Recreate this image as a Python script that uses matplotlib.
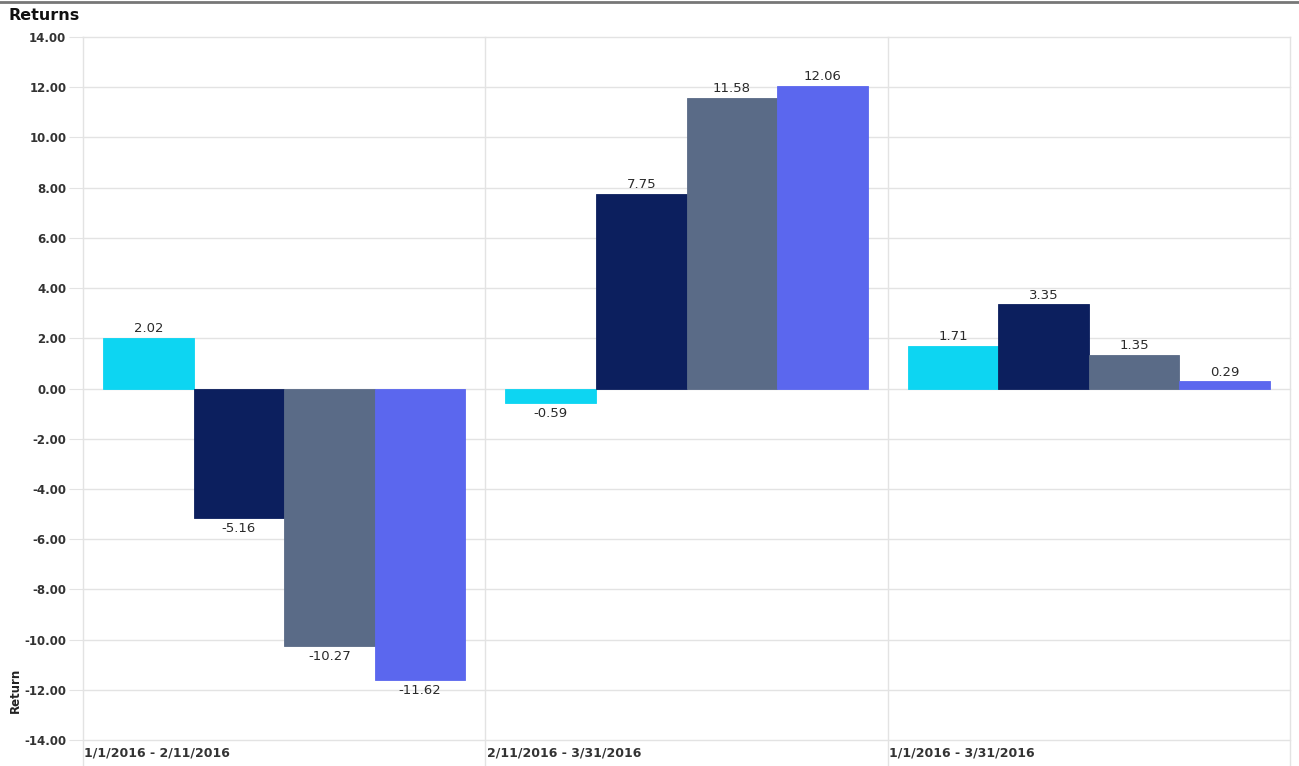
import matplotlib.pyplot as plt
import numpy as np

# 各区间收益率
periods = ["1/1/2016 - 2/11/2016", "2/11/2016 - 3/31/2016", "1/1/2016 - 3/31/2016"]
series_a = [2.02, -0.59, 1.71]
series_b = [-5.16, 7.75, 3.35]
series_c = [-10.27, 11.58, 1.35]
series_d = [-11.62, 12.06, 0.29]
colors = ["#0DD5F2", "#0C1F5E", "#5A6B87", "#5B67EE"]
yticks = np.arange(-14, 15, 2)

fig = plt.figure(figsize=(12.99, 7.66), dpi=100)
ax = fig.add_axes([83 / 1299, 1 - 740 / 766, (1290 - 83) / 1299, (740 - 37) / 766])

bw = 0.225
pad = 0.05
x = np.arange(len(periods))
for i, (vals, c) in enumerate(zip([series_a, series_b, series_c, series_d], colors)):
    xs = x + pad + i * bw
    ax.bar(xs, vals, width=bw, align="edge", color=c, edgecolor=c, linewidth=0.6, zorder=3)
    for xi, v in zip(xs, vals):
        if v >= 0:
            ax.text(xi + bw / 2, v + 0.1, f"{v:.2f}", ha="center", va="bottom",
                    fontsize=9.5, color="#2a2a2a", zorder=4)
        else:
            ax.text(xi + bw / 2, v - 0.15, f"{v:.2f}", ha="center", va="top",
                    fontsize=9.5, color="#2a2a2a", zorder=4)

ax.set_xlim(0, 3)
ax.set_ylim(-14, 14)
ax.set_yticks(yticks)
ax.set_yticklabels([f"{t:.2f}" for t in yticks], fontsize=8.5, fontweight="bold", color="#333333")
ax.set_xticks([])
for i, p in enumerate(periods):
    ax.text(i + 0.003, -14.25, p, ha="left", va="top", fontsize=9, fontweight="bold",
            color="#333333")

ax.grid(axis="y", color="#E3E3E3", linewidth=1, zorder=0)
for gl in ax.get_ygridlines():
    gl.set_clip_on(False)
# 分组竖线一直画到图底
for xv in [0, 1, 2, 3]:
    ax.axvline(xv, ymin=-26 / 703, ymax=1, color="#E3E3E3", linewidth=1, zorder=0, clip_on=False)
for s in ax.spines.values():
    s.set_visible(False)
ax.tick_params(axis="y", length=10, color="#E3E3E3", pad=2)

fig.text(15 / 1299, 1 - 690 / 766, "Return", rotation=90, ha="center", va="center",
         fontsize=8.5, fontweight="bold", color="#222222")
fig.text(8 / 1299, 1 - 15 / 766, "Returns", ha="left", va="center", fontsize=11.5,
         fontweight="bold", color="#111111")
fig.add_artist(plt.Line2D([0, 1], [1 - 2 / 766, 1 - 2 / 766], color="#777777", linewidth=2))

fig.savefig("out.png", dpi=100)
